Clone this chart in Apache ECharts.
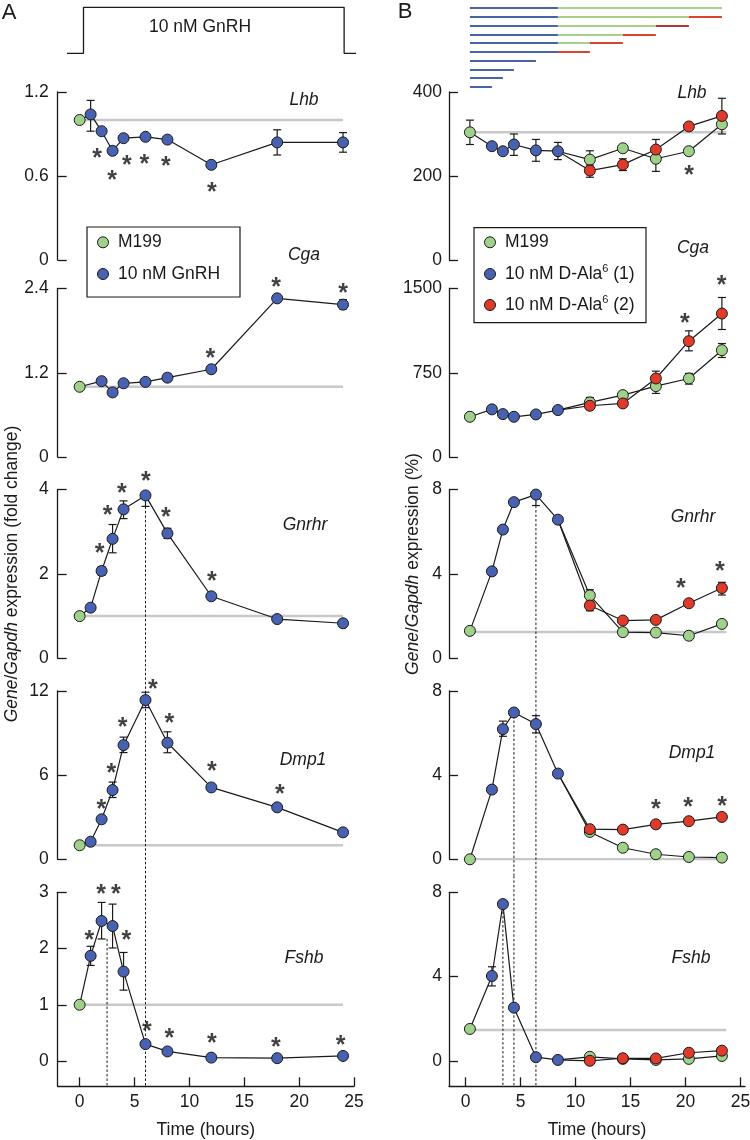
<!DOCTYPE html>
<html><head><meta charset="utf-8">
<script src="https://cdn.jsdelivr.net/npm/echarts@6/dist/echarts.min.js"></script>
<style>html,body{margin:0;padding:0;background:#fff}#c{width:750px;height:1140px}</style>
</head><body><div id="c"></div><script>
// ---------------- DATA ----------------
const hoursA = [0, 1, 2, 3, 4, 6, 8, 12, 18, 24];
const hoursB = [0.4, 2.4, 3.4, 4.4, 6.4, 8.4, 11.3, 14.3, 17.3, 20.3, 23.3];
const xTicks = [0, 5, 10, 15, 20, 25];

// Panel A (fold change): index 0 = M199 at time 0, the rest = 10 nM GnRH
const lhbA   = [1.0, 1.04, 0.92, 0.78, 0.87, 0.88, 0.86, 0.68, 0.84, 0.84];
const cgaA   = [1.0, null, 1.08, 0.92, 1.05, 1.07, 1.13, 1.25, 2.26, 2.17];
const gnrhrA = [1.0, 1.2, 2.07, 2.83, 3.53, 3.86, 2.96, 1.47, 0.93, 0.83];
const dmp1A  = [1.0, 1.25, 2.85, 4.93, 8.13, 11.34, 8.3, 5.12, 3.7, 1.92];
const fshbA  = [1.0, 1.87, 2.49, 2.40, 1.59, 0.30, 0.17, 0.06, 0.05, 0.09];

// error bars [time, low, high]
const lhbA_err   = [[1, 0.92, 1.14], [18, 0.75, 0.93], [24, 0.77, 0.91]];
const cgaA_err   = [[8, 1.08, 1.18], [24, 2.11, 2.24]];
const gnrhrA_err = [[2, 1.97, 2.17], [3, 2.5, 3.17], [4, 3.31, 3.73], [6, 3.6, 3.86], [8, 2.84, 3.08], [12, 1.42, 1.52], [24, 0.76, 0.9]];
const dmp1A_err  = [[3, 4.4, 5.5], [4, 7.6, 8.7], [6, 10.8, 11.9], [8, 7.59, 9.08], [18, 3.5, 3.9]];
const fshbA_err  = [[1, 1.7, 2.04], [2, 2.17, 2.82], [3, 2.01, 2.79], [4, 1.26, 1.93]];

// significance marks [time, level]
const lhbA_star   = [[1.6, 0.77], [2.95, 0.61], [4.3, 0.72], [5.9, 0.73], [7.85, 0.71], [12.05, 0.53]];
const cgaA_star   = [[11.9, 1.5], [17.9, 2.51], [24, 2.42]];
const gnrhrA_star = [[1.82, 2.63], [2.55, 3.53], [3.85, 4.05], [6.04, 4.34], [7.85, 3.49], [12.04, 1.97]];
const dmp1A_star  = [[1.97, 3.99], [2.88, 6.59], [3.91, 9.84], [6.67, 12.53], [8.18, 10.15], [12.04, 6.71], [18.25, 5.05]];
const fshbA_star  = [[0.88, 2.26], [1.95, 3.07], [3.31, 3.07], [4.25, 2.26], [6.13, 0.64], [8.18, 0.51], [12.04, 0.43], [17.88, 0.36], [23.79, 0.39]];

// Panel B (% of Gapdh)
const lhbB_m199   = [304, null, null, null, null, null, 239, 266, 241, 259, 323];
const lhbB_ala1   = [null, 271, 259, 275, 261, 259, null, null, null, null, null];
const lhbB_ala2   = [null, null, null, null, null, null, 213, 227, 263, 318, 343];
const cgaB_m199   = [358, null, null, null, null, null, 486, 551, 631, 699, 951];
const cgaB_ala1   = [null, 424, 382, 358, 379, 418, null, null, null, null, null];
const cgaB_ala2   = [null, null, null, null, null, null, 456, 477, 699, 1031, 1277];
const gnrhrB_m199 = [1.3, null, null, null, null, null, 2.98, 1.24, 1.22, 1.07, 1.63];
const gnrhrB_ala1 = [null, 4.12, 6.1, 7.4, 7.76, 6.57, null, null, null, null, null];
const gnrhrB_ala2 = [null, null, null, null, null, null, 2.5, 1.79, 1.82, 2.61, 3.33];
const dmp1B_m199  = [0.0, null, null, null, null, null, 1.3, 0.55, 0.24, 0.11, 0.08];
const dmp1B_ala1  = [null, 3.31, 6.18, 6.97, 6.42, 4.07, null, null, null, null, null];
const dmp1B_ala2  = [null, null, null, null, null, null, 1.43, 1.41, 1.66, 1.81, 2.01];
const fshbB_m199  = [1.52, null, null, null, null, null, 0.2, 0.1, 0.05, 0.1, 0.24];
const fshbB_ala1  = [null, 4.03, 7.44, 2.53, 0.18, 0.05, null, null, null, null, null];
const fshbB_ala2  = [null, null, null, null, null, null, 0.01, 0.13, 0.12, 0.39, 0.49];

const lhbB_err   = [[0.4, 275, 333], [4.4, 249, 300], [6.4, 235, 287], [8.4, 239, 280], [11.3, 226, 260], [11.3, 197, 222], [14.3, 213, 241], [17.3, 211, 265], [17.3, 245, 287], [23.3, 300, 330], [23.3, 320, 385]];
const cgaB_err   = [[0.4, 330, 390], [6.4, 355, 400], [11.3, 450, 530], [11.3, 430, 480], [17.3, 566, 669], [17.3, 660, 764], [20.3, 649, 744], [20.3, 945, 1123], [23.3, 886, 1010], [23.3, 1135, 1420]];
const gnrhrB_err = [[4.4, 7.25, 7.55], [6.4, 7.24, 7.76], [11.3, 2.7, 3.25], [11.3, 2.25, 2.7], [23.3, 3.0, 3.6]];
const dmp1B_err  = [[3.4, 5.84, 6.56], [6.4, 6.0, 6.82]];
const fshbB_err  = [[2.4, 3.56, 4.47], [3.4, 7.3, 7.6]];

const lhbB_star   = [[20.33, 217]];
const cgaB_star   = [[19.94, 1242], [23.27, 1588]];
const gnrhrB_star = [[19.57, 3.59], [23.12, 4.43]];
const dmp1B_star  = [[17.3, 2.65], [20.24, 2.77], [23.33, 2.8]];
const fshbB_star  = [];

// control (grey) reference levels
const baseA = [1, 1, 1, 1, 1];
const baseB = [304, null, 1.25, 0, 1.47];

// dashed guide lines [panel, time, from, to]
const dashA = [[2, 6, 3.6, -0.77], [3, 6, 12, -1.18], [4, 6, 3.29, -0.45], [4, 2.5, 2.17, -0.45]];
const dashB = [[2, 6.4, 7.24, -1.54], [3, 6.4, 8, -0.78], [4, 6.4, 8.78, -1.2], [3, 4.4, 6.8, -0.78], [4, 4.4, 8.78, -1.2], [4, 3.4, 7.3, -1.2]];

// treatment protocol (panel A header) and pulse bars (panel B header): [row, start, end]
const pulseA = [[-1.15, 0], [0.35, 0], [0.35, 1], [24.1, 1], [24.1, 0], [25.7, 0]];
const barsBlue  = [[1, 0.4, 8.4], [2, 0.4, 8.4], [3, 0.4, 8.4], [4, 0.4, 8.4], [5, 0.4, 8.4], [6, 0.4, 8.4], [7, 0.4, 6.4], [8, 0.4, 4.4], [9, 0.4, 3.4], [10, 0.4, 2.4]];
const barsGreen = [[1, 8.4, 23.3], [2, 8.4, 20.3], [3, 8.4, 17.3], [4, 8.4, 14.3], [5, 8.4, 11.3]];
const barsRed   = [[2, 20.3, 23.3], [3, 17.3, 20.3], [4, 14.3, 17.3], [5, 11.3, 14.3], [6, 8.4, 11.3]];

// ---------------- STYLE / LAYOUT ----------------
const FONT = '"Liberation Sans", Arial, Helvetica, sans-serif';
const INK = '#1a1a1a', GREY = '#c8c8c8';
const C_BLUE = '#4862b1', C_GREEN = '#a0d18b', C_RED = '#e03a2b';
const FS = 17.5;
const tops = [92, 288.5, 489.5, 690.8, 892.3];
const heights = [168, 168.5, 168.8, 168.5, 194];
const LX = 57.7, LW = 296.3, RX = 449, RW = 296;

const grids = [], xAxes = [], yAxes = [], series = [];
function addGrid(left, top, width, height) {
  grids.push({left, top, width, height, containLabel: false, outerBoundsMode: 'none'});
  return grids.length - 1;
}
function xAx(gi, min, max, bottom) {
  return {gridIndex: gi, type: 'value', min, max, show: bottom,
    axisLine: {show: bottom, onZero: false, lineStyle: {color: INK, width: 1.3}},
    axisTick: {show: bottom, inside: true, length: 9, customValues: xTicks, lineStyle: {color: INK, width: 1.3}},
    axisLabel: {show: bottom, customValues: xTicks, margin: 7, fontSize: FS, color: INK, fontFamily: FONT,
      formatter: v => String(v)},
    splitLine: {show: false},
    name: bottom ? 'Time (hours)' : '', nameLocation: 'middle', nameGap: 35,
    nameTextStyle: {fontSize: FS, color: INK, fontFamily: FONT}};
}
function yAx(gi, min, max, ticks, margin) {
  return {gridIndex: gi, type: 'value', min, max,
    axisLine: {show: true, onZero: false, lineStyle: {color: INK, width: 1.3}},
    axisTick: {show: true, inside: true, length: 9, customValues: ticks, lineStyle: {color: INK, width: 1.3}},
    axisLabel: {show: true, customValues: ticks, margin, fontSize: FS, color: INK, fontFamily: FONT,
      formatter: v => String(v)},
    splitLine: {show: false}};
}
function hidden(gi, min, max, inverse) {
  return {gridIndex: gi, type: 'value', min, max, inverse: !!inverse, show: false};
}
function greyLine(gi, x0, x1, v) {
  return {type: 'line', xAxisIndex: gi, yAxisIndex: gi, data: [[x0, v], [x1, v]], symbol: 'none',
    lineStyle: {color: GREY, width: 2.5}, z: 1, silent: true};
}
function dashLine(gi, x, y0, y1) {
  return {type: 'line', xAxisIndex: gi, yAxisIndex: gi, data: [[x, y0], [x, y1]], symbol: 'none', clip: false,
    lineStyle: {color: INK, width: 1, type: [2.5, 2]}, z: 2, silent: true};
}
function dataLine(gi, pts) {
  return {type: 'line', xAxisIndex: gi, yAxisIndex: gi, data: pts, symbol: 'none', showSymbol: false, clip: false,
    lineStyle: {color: INK, width: 1.2}, z: 3, silent: true};
}
function errBars(gi, data) {
  return {type: 'custom', xAxisIndex: gi, yAxisIndex: gi, data, z: 4, silent: true,
    encode: {x: 0, y: [1, 2]},
    renderItem: function (params, api) {
      const x = api.value(0), lo = api.value(1), hi = api.value(2);
      const a = api.coord([x, hi]), b = api.coord([x, lo]);
      const w = 4, st = {stroke: INK, lineWidth: 1.2};
      return {type: 'group', children: [
        {type: 'line', shape: {x1: a[0], y1: a[1], x2: b[0], y2: b[1]}, style: st},
        {type: 'line', shape: {x1: a[0] - w, y1: a[1], x2: a[0] + w, y2: a[1]}, style: st},
        {type: 'line', shape: {x1: b[0] - w, y1: b[1], x2: b[0] + w, y2: b[1]}, style: st}
      ]};
    }};
}
function dots(gi, pts, color, z) {
  return {type: 'scatter', xAxisIndex: gi, yAxisIndex: gi, data: pts, symbol: 'circle', symbolSize: 11, clip: false,
    itemStyle: {color, borderColor: INK, borderWidth: 1, opacity: 1}, z, silent: true};
}
function stars(gi, pts) {
  return {type: 'scatter', xAxisIndex: gi, yAxisIndex: gi, data: pts, symbol: 'circle', symbolSize: 1, clip: false,
    itemStyle: {color: 'rgba(0,0,0,0)'},
    label: {show: true, position: 'inside', formatter: '*', fontSize: 25, fontWeight: 'bold', color: '#111',
      fontFamily: FONT, offset: [0, 7]},
    z: 9, silent: true};
}
function pairs(xs, vs) {
  const out = [];
  xs.forEach((x, i) => { if (vs[i] !== null && vs[i] !== undefined) out.push([x, vs[i]]); });
  return out;
}

// ---------------- HEADERS ----------------
{
  const gi = addGrid(LX, 7.3, LW, 46);
  xAxes.push(hidden(gi, -2, 25)); yAxes.push(hidden(gi, 0, 1));
  series.push({type: 'line', xAxisIndex: gi, yAxisIndex: gi, data: pulseA, symbol: 'none', clip: false,
    lineStyle: {color: INK, width: 1.3}, silent: true});
}
{
  const gi = addGrid(RX, 8, RW, 79);
  xAxes.push(hidden(gi, -1.5, 25.4)); yAxes.push(hidden(gi, 1, 10, true));
  const mk = (rows, color) => ({type: 'lines', coordinateSystem: 'cartesian2d', xAxisIndex: gi, yAxisIndex: gi,
    polyline: false, silent: true,
    data: rows.map(r => ({coords: [[r[1], r[0]], [r[2], r[0]]],
      lineStyle: {color: (color === '#d9432f' && r[0] === 3) ? '#b2372e' : color}})),
    lineStyle: {width: 2, opacity: 1, color}});
  series.push(mk(barsBlue, '#4a64a8'), mk(barsGreen, '#a6d08c'), mk(barsRed, '#d9432f'));
}

// ---------------- PANELS A ----------------
const panelsA = [
  {vals: lhbA,   min: 0,     max: 1.2, ticks: [0, 0.6, 1.2], err: lhbA_err,   st: lhbA_star},
  {vals: cgaA,   min: 0,     max: 2.4, ticks: [0, 1.2, 2.4], err: cgaA_err,   st: cgaA_star},
  {vals: gnrhrA, min: 0,     max: 4,   ticks: [0, 2, 4],     err: gnrhrA_err, st: gnrhrA_star},
  {vals: dmp1A,  min: 0,     max: 12,  ticks: [0, 6, 12],    err: dmp1A_err,  st: dmp1A_star},
  {vals: fshbA,  min: -0.45, max: 3,   ticks: [0, 1, 2, 3],  err: fshbA_err,  st: fshbA_star}
];
const gridA = [];
panelsA.forEach((p, i) => {
  const gi = addGrid(LX, tops[i], LW, heights[i]);
  gridA.push(gi);
  xAxes.push(xAx(gi, -2, 25, i === 4));
  yAxes.push(yAx(gi, p.min, p.max, p.ticks, 9));
  series.push(greyLine(gi, 0, 24, baseA[i]));
  series.push(dataLine(gi, pairs(hoursA, p.vals)));
  series.push(errBars(gi, p.err));
  series.push(dots(gi, [[hoursA[0], p.vals[0]]], C_GREEN, 5));
  series.push(dots(gi, pairs(hoursA.slice(1), p.vals.slice(1)), C_BLUE, 6));
  series.push(stars(gi, p.st));
});
dashA.forEach(d => series.push(dashLine(gridA[d[0]], d[1], d[2], d[3])));

// ---------------- PANELS B ----------------
const panelsB = [
  {m: lhbB_m199,   a1: lhbB_ala1,   a2: lhbB_ala2,   min: 0,    max: 400,  ticks: [0, 200, 400],  err: lhbB_err,   st: lhbB_star},
  {m: cgaB_m199,   a1: cgaB_ala1,   a2: cgaB_ala2,   min: 0,    max: 1500, ticks: [0, 750, 1500], err: cgaB_err,   st: cgaB_star},
  {m: gnrhrB_m199, a1: gnrhrB_ala1, a2: gnrhrB_ala2, min: 0,    max: 8,    ticks: [0, 4, 8],      err: gnrhrB_err, st: gnrhrB_star},
  {m: dmp1B_m199,  a1: dmp1B_ala1,  a2: dmp1B_ala2,  min: 0,    max: 8,    ticks: [0, 4, 8],      err: dmp1B_err,  st: dmp1B_star},
  {m: fshbB_m199,  a1: fshbB_ala1,  a2: fshbB_ala2,  min: -1.2, max: 8,    ticks: [0, 4, 8],      err: fshbB_err,  st: fshbB_star}
];
const gridB = [];
panelsB.forEach((p, i) => {
  const gi = addGrid(RX, tops[i], RW, heights[i]);
  gridB.push(gi);
  xAxes.push(xAx(gi, -1.5, 25.4, i === 4));
  yAxes.push(yAx(gi, p.min, p.max, p.ticks, 7));
  if (baseB[i] !== null) series.push(greyLine(gi, 0.4, 23.7, baseB[i]));
  const main = hoursB.map((h, k) => [h, p.m[k] !== null ? p.m[k] : p.a1[k]]);
  const alt = [[hoursB[5], p.a1[5]]].concat(pairs(hoursB, p.a2));
  series.push(dataLine(gi, main));
  series.push(dataLine(gi, alt));
  series.push(errBars(gi, p.err));
  series.push(dots(gi, pairs(hoursB, p.m), C_GREEN, 5));
  series.push(dots(gi, pairs(hoursB, p.a1), C_BLUE, 6));
  series.push(dots(gi, pairs(hoursB, p.a2), C_RED, 7));
  series.push(stars(gi, p.st));
});
dashB.forEach(d => series.push(dashLine(gridB[d[0]], d[1], d[2], d[3])));

// ---------------- TEXT / LEGENDS ----------------
const genes = ['Lhb', 'Cga', 'Gnrhr', 'Dmp1', 'Fshb'];
const geneA = [[304, 100], [304, 255], [305, 525], [303, 760], [304, 958]];
const geneB = [[692, 93], [693, 248], [693, 517], [692, 753], [691, 958]];
const txt = (x, y, s, extra) => Object.assign({type: 'text', x, y, z: 50, silent: true,
  style: Object.assign({text: s, fill: INK, font: FS + 'px ' + FONT, align: 'center', verticalAlign: 'middle'}, extra || {})});
const graphics = [];
genes.forEach((g, i) => {
  graphics.push(txt(geneA[i][0], geneA[i][1], g, {font: 'italic ' + FS + 'px ' + FONT}));
  graphics.push(txt(geneB[i][0], geneB[i][1], g, {font: 'italic ' + FS + 'px ' + FONT}));
});
graphics.push(txt(9, 13, 'A', {font: '22px ' + FONT}));
graphics.push(txt(405, 12, 'B', {font: '22px ' + FONT}));
graphics.push(txt(200, 27, '10 nM GnRH'));
const richI = {i: {fontStyle: 'italic', fontSize: FS, fontFamily: FONT, fill: INK, color: INK}};
graphics.push(Object.assign(txt(12, 574, '{i|Gene}/{i|Gapdh} expression (fold change)', {rich: richI}), {rotation: Math.PI / 2}));
graphics.push(Object.assign(txt(413, 564, '{i|Gene}/{i|Gapdh} expression (%)', {rich: richI}), {rotation: Math.PI / 2}));

// legends
const legBox = (x, y, w, h) => ({type: 'rect', z: 60, silent: true, shape: {x, y, width: w, height: h},
  style: {fill: '#fff', stroke: INK, lineWidth: 1.2}});
const legDot = (cx, cy, color) => ({type: 'circle', z: 61, silent: true, shape: {cx, cy, r: 5.5},
  style: {fill: color, stroke: INK, lineWidth: 1}});
const legTxt = (x, y, s, rich) => ({type: 'text', x, y, z: 61, silent: true,
  style: {text: s, fill: INK, font: FS + 'px ' + FONT, align: 'left', verticalAlign: 'middle', lineHeight: 22, rich: rich || {}}});
const supRich = {sup: {fontSize: 11, fontFamily: FONT, lineHeight: 11, verticalAlign: 'top', fill: INK, color: INK}};
graphics.push(legBox(87, 227, 153, 70));
graphics.push(legDot(103, 242.3, C_GREEN), legTxt(118, 242.3, 'M199'));
graphics.push(legDot(103, 274, C_BLUE), legTxt(118, 274, '10 nM GnRH'));
graphics.push(legBox(474, 227.7, 172, 95));
graphics.push(legDot(490, 242.3, C_GREEN), legTxt(505, 242.3, 'M199'));
graphics.push(legDot(490, 274, C_BLUE), legTxt(505, 274, '10 nM D-Ala{sup|6} (1)', supRich));
graphics.push(legDot(490, 305, C_RED), legTxt(505, 305, '10 nM D-Ala{sup|6} (2)', supRich));

const chart = echarts.init(document.getElementById('c'), null, {renderer: 'canvas'});
chart.setOption({
  animation: false,
  backgroundColor: '#fff',
  textStyle: {fontFamily: FONT},
  grid: grids, xAxis: xAxes, yAxis: yAxes, series,
  graphic: graphics
});
</script></body></html>
